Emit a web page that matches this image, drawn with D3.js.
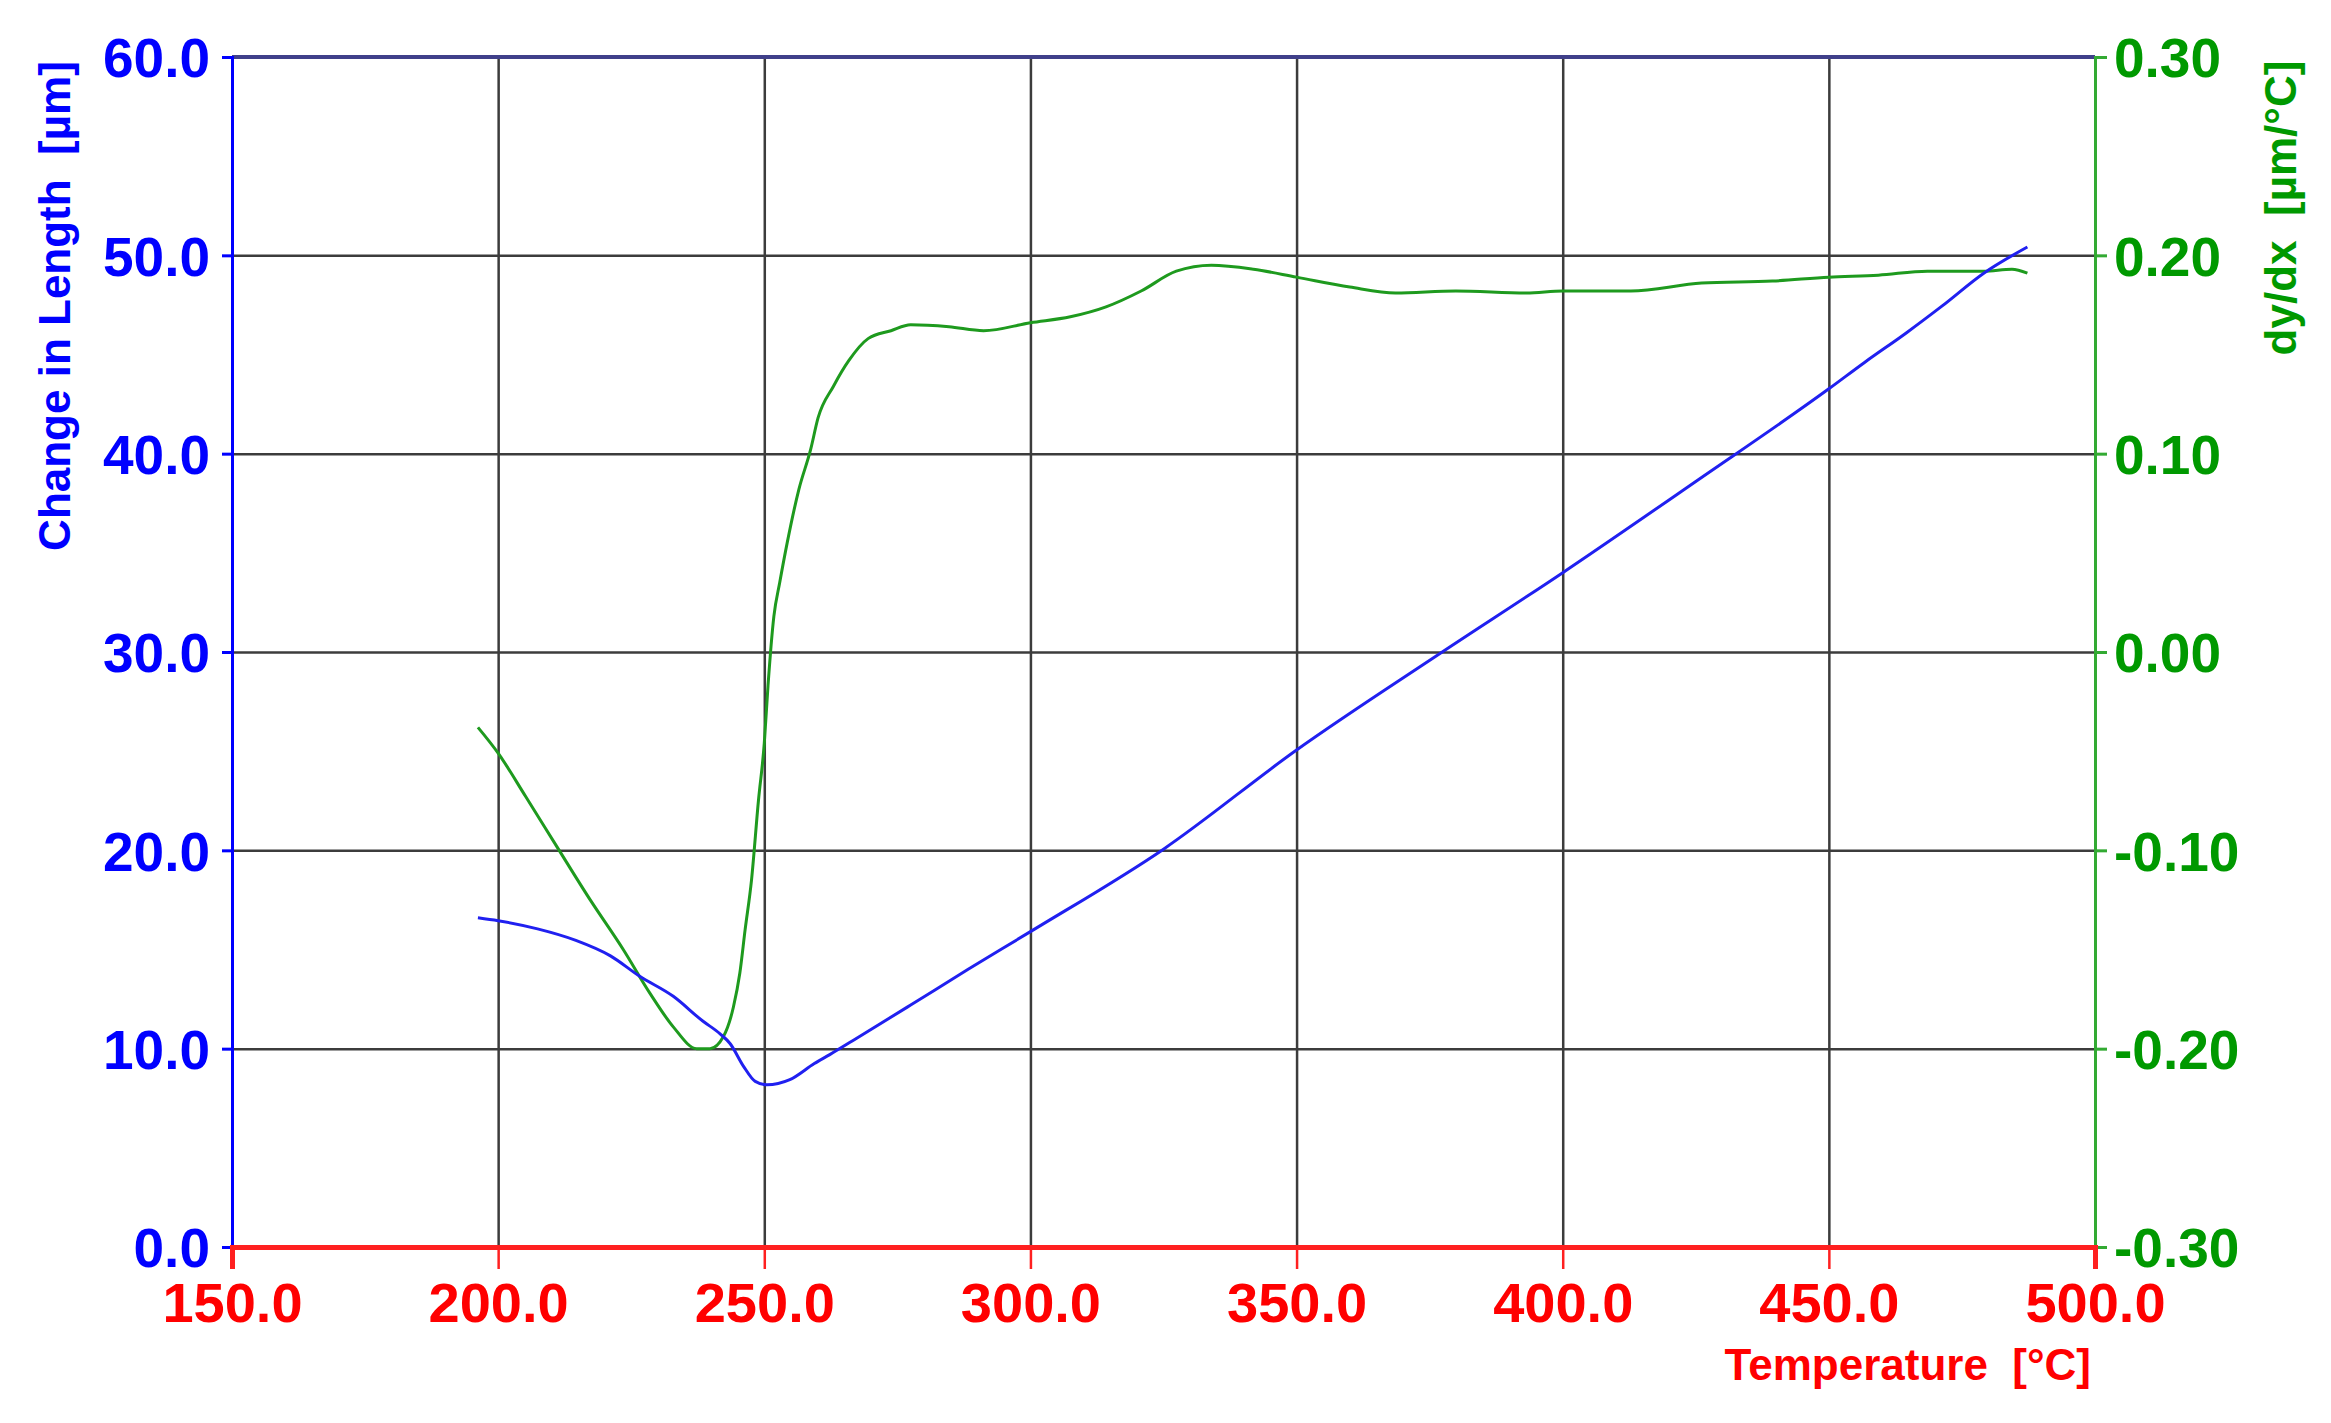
<!DOCTYPE html>
<html>
<head>
<meta charset="utf-8">
<script src="https://cdn.jsdelivr.net/npm/d3@7"></script>
<style>
  body { margin: 0; background: #fff; }
  text { font-family: "Liberation Sans", Arial, sans-serif; font-weight: bold; }
</style>
</head>
<body>
<div id="chart"></div>
<script>
// values
let lengthTemps = [196.2, 200, 207.4, 214.6, 221.1, 226.6, 232.9, 238.5, 241.7, 243.6, 246.1, 248.3, 250.5, 254.8, 259.4, 262.3, 266.6, 277.5, 288.3, 300, 325, 350, 376.8, 400, 425, 450, 456.7, 464.6, 471.3, 479.1, 487.3];
let lengthValues = [16.6, 16.45, 16.04, 15.46, 14.68, 13.65, 12.64, 11.38, 10.75, 10.25, 9.11, 8.35, 8.18, 8.44, 9.25, 9.7, 10.4, 12.2, 14.0, 15.9, 20.06, 25.06, 29.9, 34.0, 38.6, 43.27, 44.6, 46.1, 47.45, 49.1, 50.42];

let derivTemps = [196.2, 200, 205.2, 211, 217.3, 223.5, 228.5, 232.9, 237.3, 239.8, 242.3, 244.2, 245.4, 246.4, 247.6, 248.9, 250, 250.7, 251.8, 252.9, 254.3, 256.5, 258.7, 260.1, 263, 265.9, 269.5, 273.8, 277.5, 284.7, 291.2, 300, 307.5, 314.2, 320.8, 327.4, 334, 341.9, 350, 360, 368.6, 379.9, 393.2, 400, 412.8, 426.1, 439.4, 450, 459.3, 468.5, 479.1, 484.4, 487.3];
let derivValues = [-0.038, -0.051, -0.073, -0.098, -0.125, -0.150, -0.172, -0.189, -0.2, -0.2, -0.194, -0.179, -0.162, -0.14, -0.115, -0.075, -0.046, -0.017, 0.018, 0.035, 0.055, 0.082, 0.102, 0.118, 0.134, 0.147, 0.158, 0.162, 0.165, 0.164, 0.162, 0.166, 0.169, 0.174, 0.182, 0.192, 0.195, 0.193, 0.189, 0.184, 0.181, 0.182, 0.181, 0.182, 0.182, 0.186, 0.187, 0.189, 0.190, 0.192, 0.192, 0.193, 0.191];

let tempTicks = [150, 200, 250, 300, 350, 400, 450, 500];
let lengthTicks = [0, 10, 20, 30, 40, 50, 60];
let derivTicks = [-0.3, -0.2, -0.1, 0, 0.1, 0.2, 0.3];

let W = 2331, H = 1423;
let plotLeft = 232, plotRight = 2095, plotTop = 57, plotBottom = 1247;

let svg = d3.select("#chart").append("svg").attr("width", W).attr("height", H);

let x = d3.scaleLinear().domain([150, 500]).range([plotLeft, plotRight]);
let yL = d3.scaleLinear().domain([0, 60]).range([plotBottom, plotTop]);
let yR = d3.scaleLinear().domain([-0.3, 0.3]).range([plotBottom, plotTop]);

// grid
let grid = svg.append("g");
grid.append("g").attr("transform", `translate(0,${plotBottom})`)
  .call(d3.axisBottom(x).tickValues(tempTicks.slice(1, -1)).tickSize(-(plotBottom - plotTop)).tickFormat(""))
  .call(g => g.select(".domain").remove());
grid.append("g").attr("transform", `translate(${plotLeft},0)`)
  .call(d3.axisLeft(yL).tickValues(lengthTicks.slice(1, -1)).tickSize(-(plotRight - plotLeft)).tickFormat(""))
  .call(g => g.select(".domain").remove());
grid.selectAll("line").attr("stroke", "#3c3c3c").attr("stroke-width", 2.5);

// top border
svg.append("line")
  .attr("x1", x(150)).attr("x2", x(500)).attr("y1", yL(60)).attr("y2", yL(60))
  .attr("stroke", "#40408a").attr("stroke-width", 4);

// curves
let lengthLine = d3.line().x(d => x(d[0])).y(d => yL(d[1])).curve(d3.curveMonotoneX);
let derivLine = d3.line().x(d => x(d[0])).y(d => yR(d[1])).curve(d3.curveMonotoneX);

svg.append("path")
  .datum(derivTemps.map((t, i) => [t, derivValues[i]]))
  .attr("d", derivLine)
  .attr("fill", "none").attr("stroke", "#1e9a1e").attr("stroke-width", 3);

svg.append("path")
  .datum(lengthTemps.map((t, i) => [t, lengthValues[i]]))
  .attr("d", lengthLine)
  .attr("fill", "none").attr("stroke", "#2020f0").attr("stroke-width", 3);

// axes
let axL = svg.append("g").attr("transform", `translate(${plotLeft},0)`)
  .call(d3.axisLeft(yL).tickValues(lengthTicks).tickSize(10).tickPadding(12).tickFormat(d3.format(".1f")));
axL.selectAll("line, path").attr("stroke", "#0000ff").attr("stroke-width", 3);
axL.selectAll("text").attr("fill", "#0000ff").attr("font-size", 55).attr("dy", "0.36em");

let axR = svg.append("g").attr("transform", `translate(${plotRight},0)`)
  .call(d3.axisRight(yR).tickValues(derivTicks).tickSize(12).tickPadding(7).tickFormat(d => d.toFixed(2)));
axR.selectAll("line, path").attr("stroke", "#33aa33").attr("stroke-width", 3);
axR.selectAll("text").attr("fill", "#009900").attr("font-size", 55).attr("dy", "0.36em");

let axB = svg.append("g").attr("transform", `translate(0,${plotBottom})`)
  .call(d3.axisBottom(x).tickValues(tempTicks).tickSize(22).tickPadding(13).tickFormat(d3.format(".1f")));
axB.selectAll("line").attr("stroke", "#ff2020").attr("stroke-width", 2.5);
axB.select(".domain").attr("stroke", "#ff2020").attr("stroke-width", 5);
axB.selectAll("text").attr("fill", "#ff0000").attr("font-size", 56);

// titles
svg.append("text")
  .attr("transform", `translate(70,${(59 + 553) / 2}) rotate(-90)`)
  .attr("text-anchor", "middle").attr("font-size", 44).attr("fill", "#0000ff")
  .attr("xml:space", "preserve")
  .text("Change in Length  [µm]");

svg.append("text")
  .attr("transform", `translate(2296,${(59 + 357) / 2}) rotate(-90)`)
  .attr("text-anchor", "middle").attr("font-size", 44).attr("fill", "#009900")
  .attr("xml:space", "preserve")
  .text("dy/dx  [µm/°C]");

svg.append("text")
  .attr("x", 2091).attr("y", 1380)
  .attr("text-anchor", "end").attr("font-size", 44).attr("fill", "#ff0000")
  .attr("xml:space", "preserve")
  .text("Temperature  [°C]");
</script>
</body>
</html>
